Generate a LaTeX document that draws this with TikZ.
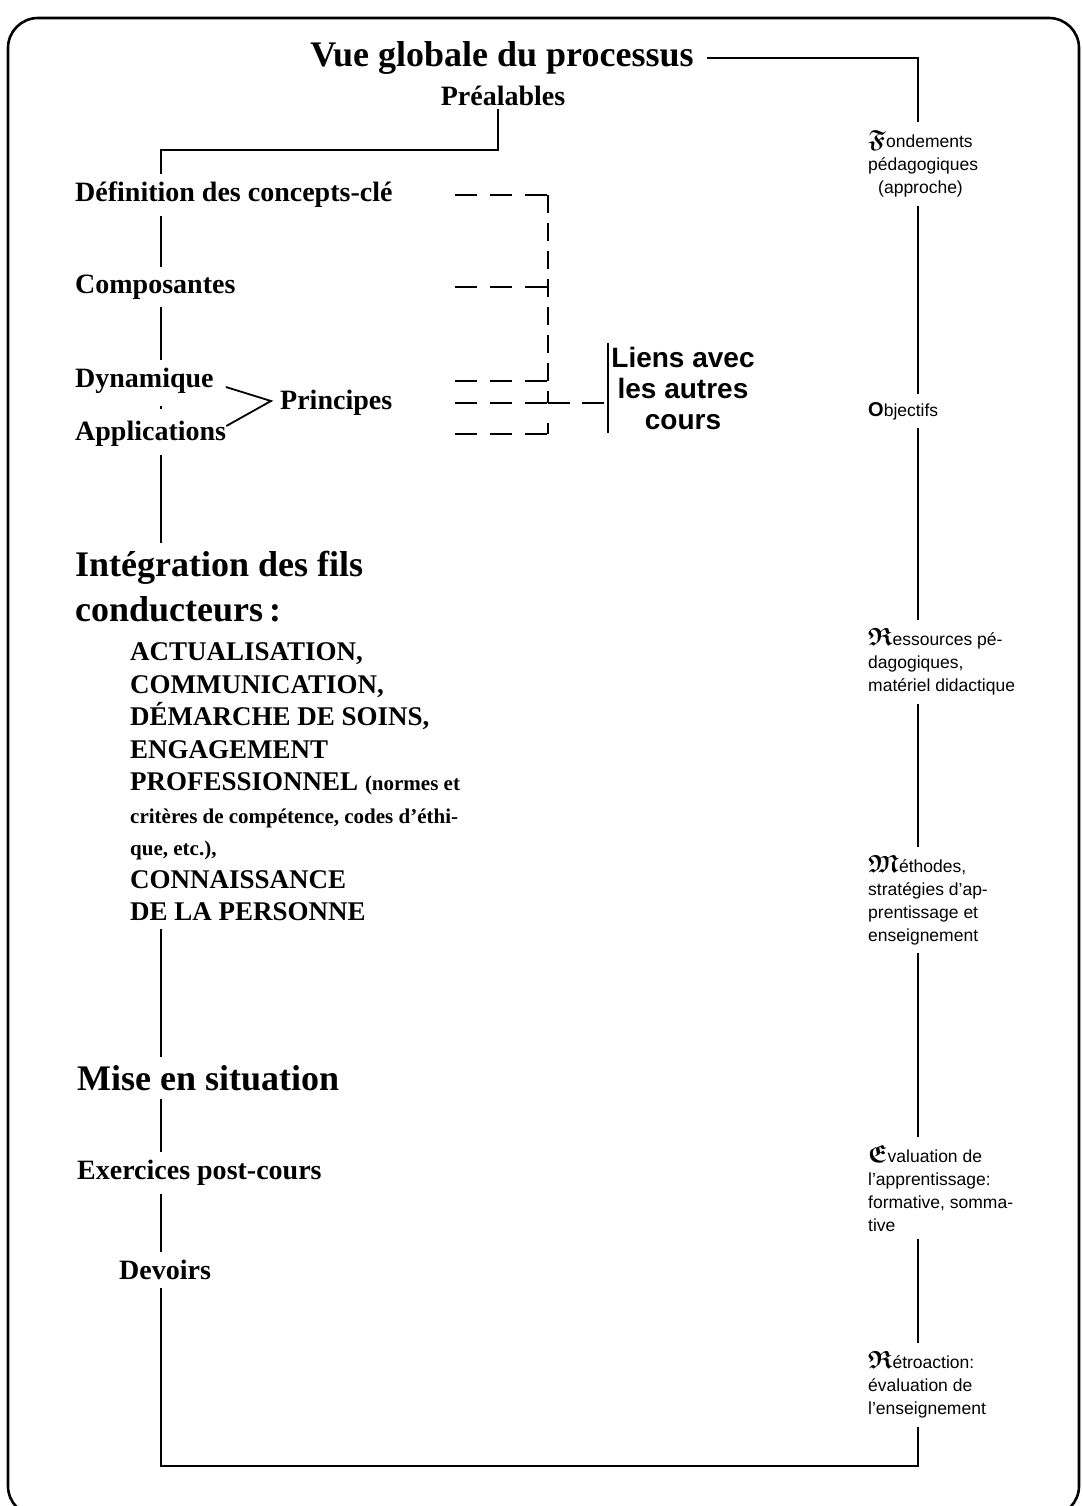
\documentclass[tikz,border=0pt]{standalone}
\usepackage{amsmath,amssymb}
\usepackage{fontspec}
\setmainfont{Liberation Serif}
\setsansfont{Liberation Sans}
\usetikzlibrary{positioning}

\newcommand{\fsize}[2]{\fontsize{#1pt}{#2pt}\selectfont}
% fraktur capital in front of the right-hand entries
\newcommand{\initial}[1]{{\fsize{24.88}{24.88}\boldmath$\mathfrak{#1}$}}

\begin{document}
\begin{tikzpicture}[
  x=1pt, y=-1pt,
  link/.style={line width=1.8pt},
  dashlink/.style={line width=1.8pt, dash pattern=on 22pt off 13pt},
  tick/.style={line width=1.8pt, dash pattern=on 18pt off 10pt},
  item/.style={anchor=west, inner xsep=2pt, inner ysep=8pt, font=\fsize{28}{32}\bfseries},
  big/.style={anchor=west, inner xsep=2pt, inner ysep=8pt, align=left, font=\fsize{36}{45}\bfseries},
  caps/.style={anchor=west, inner xsep=2pt, inner ysep=8pt, align=left, font=\fsize{27}{32.5}\bfseries},
  side/.style={anchor=west, inner xsep=0pt, inner ysep=8pt, align=left, font=\sffamily\fsize{17.5}{23}},
]
\useasboundingbox (0,0) rectangle (1082,1506);
\draw[line width=2.6pt, rounded corners=30pt] (8,18) rectangle (1079,1516);

% vertical guides
\coordinate (spine) at (161,0);
\coordinate (rspine) at (918,0);
\coordinate (dstart) at (455,0);
\coordinate (dbar) at (548,0);
\coordinate (bend) at (0,150);
\coordinate (base) at (0,1466);

% left column
\node[font=\fsize{36}{40}\bfseries] (title) at (502,58) {Vue globale du processus};
\node[font=\fsize{28}{32}\bfseries] (preal) at (503,96) {Préalables};
\node[item] (defn) at (73,195) {Définition des concepts-clé};
\node[item] (comp) at (73,287) {Composantes};
\node[item] (dyn) at (73,381) {Dynamique};
\node[item] (appl) at (73,434) {Applications};
\node[item] (princ) at (278,403) {Principes};
\node[big] (integ) at (73,587) {Intégration des fils\\conducteurs\,:};
\node[caps] (fils) at (128,782) {ACTUALISATION,\\
  COMMUNICATION,\\
  DÉMARCHE DE SOINS,\\
  ENGAGEMENT\\
  PROFESSIONNEL {\fsize{21}{32.5}(normes et}\\
  {\fsize{21}{32.5}critères de compétence, codes d'éthi-}\\
  {\fsize{21}{32.5}que, etc.),}\\
  CONNAISSANCE\\
  DE LA PERSONNE};
\node[big] (mise) at (75,1078) {Mise en situation};
\node[item] (exer) at (75,1173) {Exercices post-cours};
\node[item] (dev) at (117,1270) {Devoirs};

% links with other courses
\node[font=\sffamily\bfseries\fsize{28}{31}, align=center] (liens) at (683,388) {Liens avec\\les autres\\cours};

% right column
\node[side] (fond) at (868,164) {\initial{F}ondements\\pédagogiques\\\hspace{10pt}(approche)};
\node[side] (obj) at (868,411) {{\fsize{20}{20}\textbf{O}}bjectifs};
\node[side] (res) at (868,662) {\initial{R}essources pé-\\dagogiques,\\matériel didactique};
\node[side] (meth) at (868,900) {\initial{M}éthodes,\\stratégies d'ap-\\prentissage et\\enseignement};
\node[side] (eval) at (868,1188) {\initial{E}valuation de\\l'apprentissage:\\formative, somma-\\tive};
\node[side] (retro) at (868,1385) {\initial{R}étroaction:\\évaluation de\\l'enseignement};

% main sequence
\draw[link] ([xshift=-5pt]preal.south) -- ([xshift=-5pt]preal.south |- bend) -| (spine |- defn.north);
\draw[link] (spine |- defn.south) -- (spine |- comp.north);
\draw[link] (spine |- comp.south) -- (spine |- dyn.north);
\draw[link] ([yshift=-4pt]spine |- dyn.south) -- ([yshift=4pt]spine |- appl.north);
\draw[link] (spine |- appl.south) -- (spine |- integ.north);
\draw[link] (spine |- fils.south) -- (spine |- mise.north);
\draw[link] (spine |- mise.south) -- (spine |- exer.north);
\draw[link] (spine |- exer.south) -- (spine |- dev.north);
\draw[link] (spine |- dev.south) |- (rspine |- base) -- (rspine |- retro.south);

% principes
\draw[link] ([xshift=10pt,yshift=-6pt]dyn.east) -- ([xshift=-7pt,yshift=2pt]princ.west)
  -- ([xshift=-2pt,yshift=8pt]appl.east);

% dashed ties
\draw[dashlink] (dstart |- defn) -- (dbar |- defn);
\draw[dashlink] (dstart |- comp) -- (dbar |- comp);
\draw[dashlink] (dstart |- dyn) -- (dbar |- dyn);
\draw[dashlink] (dstart |- princ) -- (dbar |- princ);
\draw[dashlink] (dstart |- appl) -- (dbar |- appl);
\draw[tick] (dbar |- defn) -- (dbar |- dyn);
\draw[link] ([yshift=12pt]dbar |- princ) -- (dbar |- princ);
\draw[link] ([yshift=11pt]dbar |- appl) -- (dbar |- appl);
\draw[link, dash pattern=on 22pt off 12pt] (dbar |- princ) -- (liens.west |- princ);
\draw[link] (liens.north west) -- (liens.south west);

% right sequence
\draw[link] ([xshift=10pt]title.east) -| (rspine |- fond.north);
\draw[link] (rspine |- fond.south) -- (rspine |- obj.north);
\draw[link] (rspine |- obj.south) -- (rspine |- res.north);
\draw[link] (rspine |- res.south) -- (rspine |- meth.north);
\draw[link] (rspine |- meth.south) -- (rspine |- eval.north);
\draw[link] (rspine |- eval.south) -- (rspine |- retro.north);
\end{tikzpicture}
\end{document}
